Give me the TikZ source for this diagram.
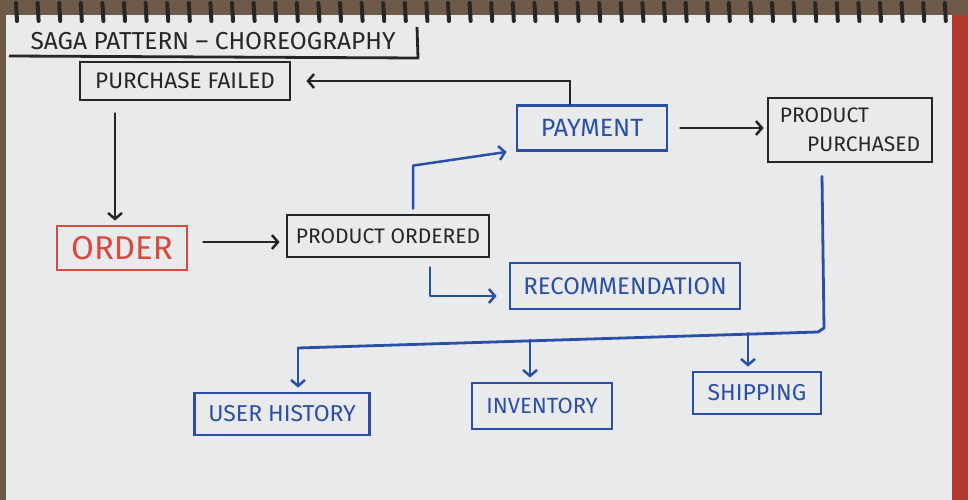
\documentclass[tikz,border=0pt]{standalone}
\usepackage{fontspec}
\setmainfont{Fira Sans}
\usetikzlibrary{arrows.meta}
\definecolor{paper}{HTML}{E9EAEB}
\definecolor{wood}{HTML}{6E5A48}
\definecolor{redge}{HTML}{B23A2C}
\definecolor{ink}{HTML}{262626}
\definecolor{inkblue}{HTML}{2B4FA6}
\definecolor{inkred}{HTML}{D84A40}
\begin{document}
\begin{tikzpicture}[x=1pt,y=-1pt,
  every node/.style={font=\fontsize{22}{29}\selectfont},
  box/.style={draw, line width=2.8pt, inner sep=0pt, align=center},
  kbox/.style={box, draw=ink, text=ink},
  bbox/.style={box, draw=inkblue, text=inkblue},
  rbox/.style={box, draw=inkred, text=inkred},
  conn/.style={line width=2.5pt, line cap=round, -{Straight Barb[length=6pt,width=14pt,line width=2.5pt]}},
  bus/.style={line width=2.8pt, line cap=round, draw=inkblue}]
\useasboundingbox (0,0) rectangle (968,500);
\fill[wood] (0,0) rectangle (968,500);
\fill[paper] (6,15) rectangle (952,500);
\fill[redge] (952,15) rectangle (968,500);
\foreach \i in {0,...,43}
  \draw[line width=4pt, line cap=round, black!85] (16+21.6*\i,3) -- (17+21.6*\i,21);

% title
\node[font=\fontsize{24.5}{27}\selectfont, text=ink] (title) at (213,41) {SAGA PATTERN – CHOREOGRAPHY};
\draw[ink, line width=2.8pt, line join=round] (9,56) -- (418,58) -- (417,27);

% nodes
\node[kbox, minimum width=210, minimum height=38, font=\fontsize{22.5}{25}\selectfont] (pf) at (185,81) {PURCHASE FAILED};
\node[rbox, minimum width=130, minimum height=44, font=\fontsize{33}{35}\selectfont] (order) at (122,248) {ORDER};
\node[kbox, minimum width=202, minimum height=42, font=\fontsize{21}{24}\selectfont] (po) at (388,236) {PRODUCT ORDERED};
\node[bbox, minimum width=150, minimum height=45, font=\fontsize{25}{27}\selectfont] (pay) at (592,128) {PAYMENT};
\node[kbox, minimum width=164, minimum height=64, align=left, font=\fontsize{21}{29}\selectfont] (pp) at (850,130) {PRODUCT\\\hspace*{1.3em}PURCHASED};
\node[bbox, minimum width=230, minimum height=46, font=\fontsize{24}{26}\selectfont] (rec) at (625,286) {RECOMMENDATION};
\node[bbox, minimum width=175, minimum height=42, font=\fontsize{23}{25}\selectfont] (uh) at (282,414) {USER HISTORY};
\node[bbox, minimum width=140, minimum height=46, font=\fontsize{22}{24}\selectfont] (inv) at (542,406) {INVENTORY};
\node[bbox, minimum width=128, minimum height=42, font=\fontsize{23}{25}\selectfont] (ship) at (757,393) {SHIPPING};

% connectors
\draw[conn, ink, shorten >=15pt] ([xshift=-22]pay.north) |- (pf.east);
\coordinate (a1) at ([xshift=-70]pf.south);
\draw[conn, ink, shorten <=12pt, shorten >=4pt] (a1) -- (a1 |- order.north);
\coordinate (a2) at ([yshift=6]order.east);
\draw[conn, ink, shorten <=15pt, shorten >=6pt] (a2) -- (a2 -| po.west);
\coordinate (p1) at ([xshift=25]po.north);
\draw[conn, inkblue, shorten <=5pt, line join=round] (p1) -- ++(0,-48) -- ([xshift=-9]pay.south west);
\coordinate (p2) at ([xshift=42]po.south);
\draw[conn, inkblue, shorten <=9pt, line join=round] (p2) |- ([xshift=-12,yshift=-10]rec.west);
\coordinate (a3) at (pay.east);
\draw[conn, ink, shorten <=12pt, shorten >=3pt] (a3) -- (a3 -| pp.west);

% bus from product purchased
\coordinate (busTop) at ([xshift=-28,yshift=-13]pp.south);
\coordinate (busR) at (824,328);
\coordinate (busL) at (298,348);
\draw[bus, line join=round] (busTop) -- (busR) -- ++(-6,4) -- (busL);
\draw[conn, inkblue, shorten >=4pt] (busL) -- (busL |- uh.north);
\coordinate (bInv) at (530,340);
\draw[conn, inkblue, shorten >=4pt] (bInv) -- (bInv |- inv.north);
\coordinate (bShip) at (748,333);
\draw[conn, inkblue, shorten >=4pt] (bShip) -- (bShip |- ship.north);
\end{tikzpicture}
\end{document}
